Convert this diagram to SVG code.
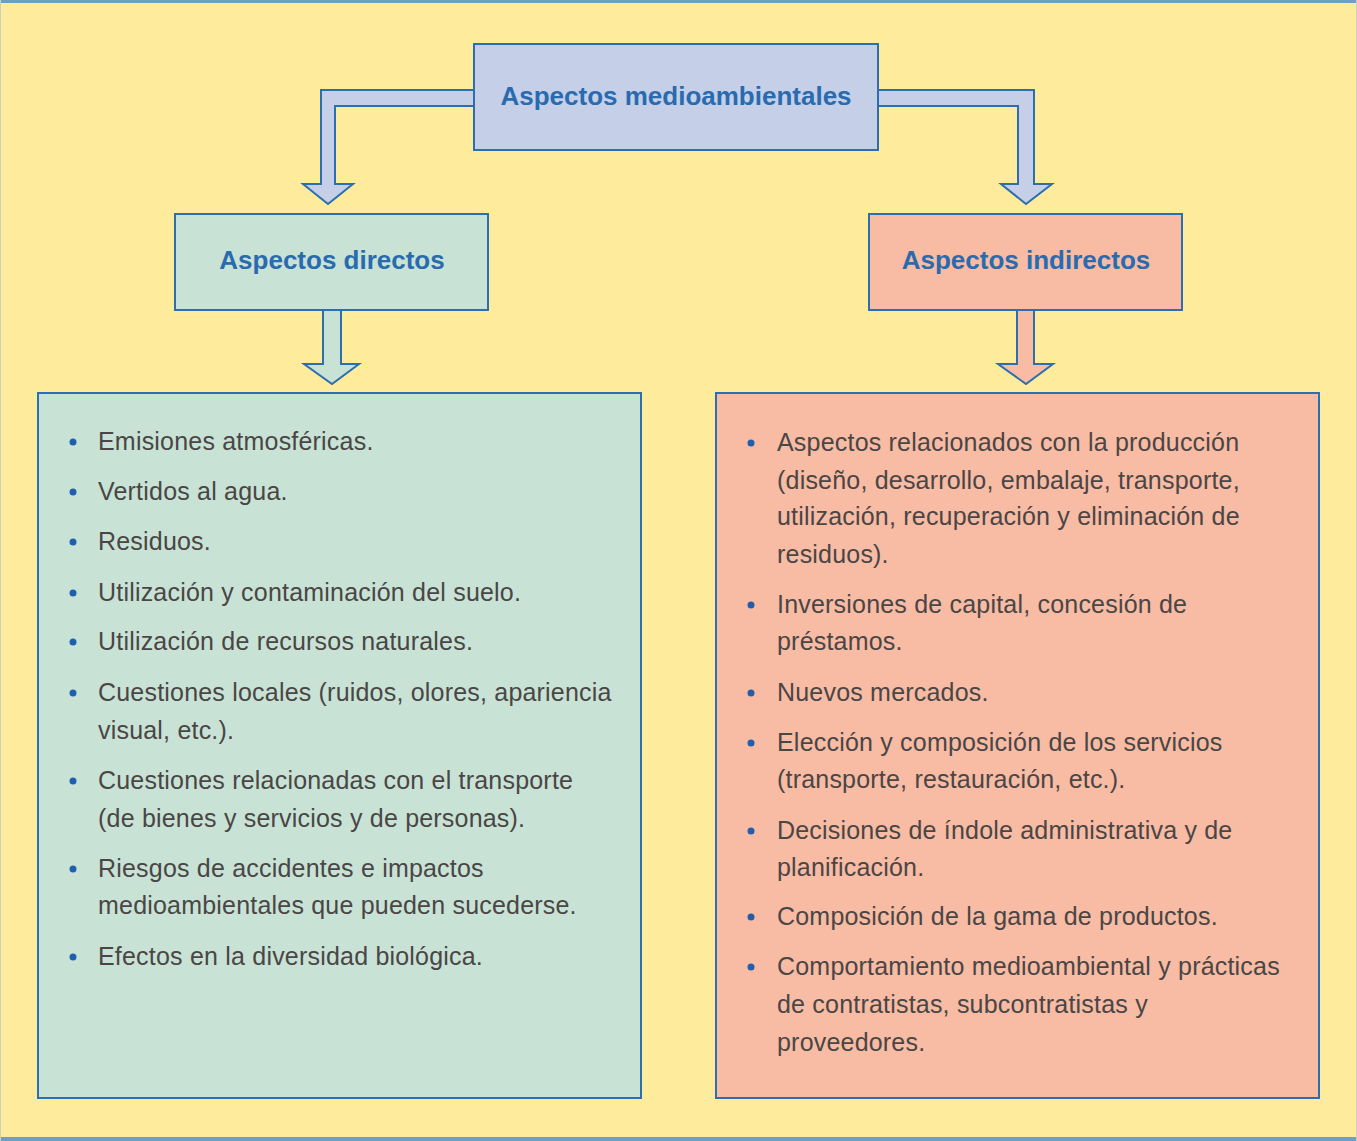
<svg xmlns="http://www.w3.org/2000/svg" width="1357" height="1141" viewBox="0 0 1357 1141">
<style>
.bg{fill:#FEEB9C}
.box{stroke:#2B6FB0;stroke-width:2}
.blue{fill:#C5CFE8}
.green{fill:#C8E3D5}
.red{fill:#F8BBA3}
.title{font-family:"Liberation Sans",Arial,sans-serif;font-size:26px;font-weight:bold;fill:#2A6BB0;text-anchor:middle}
.item{font-family:"Liberation Sans",Arial,sans-serif;font-size:25px;letter-spacing:0.2px;fill:#4A4646}
.dot{fill:#1F5FAE}
.conn{stroke:#2B6FB0;stroke-width:2;stroke-linejoin:miter}
</style>
<rect class="bg" x="0" y="0" width="1357" height="1141"/>
<rect x="0" y="0" width="1357" height="3" fill="#6E9EC2"/>
<rect x="0" y="1137" width="1357" height="4" fill="#6E9EC2"/>
<line x1="0.5" y1="0" x2="0.5" y2="1141" stroke="#C9D2C0" stroke-width="1"/>
<line x1="1356.5" y1="0" x2="1356.5" y2="1141" stroke="#C9D2C0" stroke-width="1"/>

<g id="connectors">
<path class="conn blue" d="M474,90 L321,90 L321,184 L303,184 L328,204 L353,184 L335,184 L335,106 L474,106 Z"/>
<path class="conn blue" d="M878,90 L1034,90 L1034,184 L1052,184 L1026,204 L1001,184 L1018,184 L1018,106 L878,106 Z"/>
<path class="conn green" d="M323,310 L323,364 L304,364 L332,384 L359,364 L341,364 L341,310"/>
<path class="conn red" d="M1017,310 L1017,364 L998,364 L1026,384 L1053,364 L1034,364 L1034,310"/>
</g>

<g id="node-medioambientales">
<rect class="box blue" x="474" y="44" width="404" height="106"/>
<text class="title" x="676" y="105">Aspectos medioambientales</text>
</g>

<g id="node-directos">
<rect class="box green" x="175" y="214" width="313" height="96"/>
<text class="title" x="332" y="269">Aspectos directos</text>
</g>

<g id="node-indirectos">
<rect class="box red" x="869" y="214" width="313" height="96"/>
<text class="title" x="1026" y="269">Aspectos indirectos</text>
</g>

<g id="node-lista-directos">
<rect class="box green" x="38" y="393" width="603" height="705"/>
<g class="dot">
<circle cx="73" cy="442" r="3.5"/><circle cx="73" cy="492" r="3.5"/><circle cx="73" cy="542" r="3.5"/>
<circle cx="73" cy="593" r="3.5"/><circle cx="73" cy="642" r="3.5"/><circle cx="73" cy="693" r="3.5"/>
<circle cx="73" cy="781" r="3.5"/><circle cx="73" cy="869" r="3.5"/><circle cx="73" cy="957" r="3.5"/>
</g>
<g class="item">
<text x="98" y="450">Emisiones atmosféricas.</text>
<text x="98" y="500">Vertidos al agua.</text>
<text x="98" y="550">Residuos.</text>
<text x="98" y="601">Utilización y contaminación del suelo.</text>
<text x="98" y="650">Utilización de recursos naturales.</text>
<text x="98" y="701">Cuestiones locales (ruidos, olores, apariencia</text>
<text x="98" y="739">visual, etc.).</text>
<text x="98" y="789">Cuestiones relacionadas con el transporte</text>
<text x="98" y="827">(de bienes y servicios y de personas).</text>
<text x="98" y="877">Riesgos de accidentes e impactos</text>
<text x="98" y="914">medioambientales que pueden sucederse.</text>
<text x="98" y="965">Efectos en la diversidad biológica.</text>
</g>
</g>

<g id="node-lista-indirectos">
<rect class="box red" x="716" y="393" width="603" height="705"/>
<g class="dot">
<circle cx="751" cy="443" r="3.5"/><circle cx="751" cy="605" r="3.5"/><circle cx="751" cy="693" r="3.5"/>
<circle cx="751" cy="743" r="3.5"/><circle cx="751" cy="831" r="3.5"/><circle cx="751" cy="917" r="3.5"/>
<circle cx="751" cy="967" r="3.5"/>
</g>
<g class="item">
<text x="777" y="451">Aspectos relacionados con la producción</text>
<text x="777" y="489">(diseño, desarrollo, embalaje, transporte,</text>
<text x="777" y="525">utilización, recuperación y eliminación de</text>
<text x="777" y="563">residuos).</text>
<text x="777" y="613">Inversiones de capital, concesión de</text>
<text x="777" y="650">préstamos.</text>
<text x="777" y="701">Nuevos mercados.</text>
<text x="777" y="751">Elección y composición de los servicios</text>
<text x="777" y="788">(transporte, restauración, etc.).</text>
<text x="777" y="839">Decisiones de índole administrativa y de</text>
<text x="777" y="876">planificación.</text>
<text x="777" y="925">Composición de la gama de productos.</text>
<text x="777" y="975">Comportamiento medioambiental y prácticas</text>
<text x="777" y="1013">de contratistas, subcontratistas y</text>
<text x="777" y="1051">proveedores.</text>
</g>
</g>
</svg>
